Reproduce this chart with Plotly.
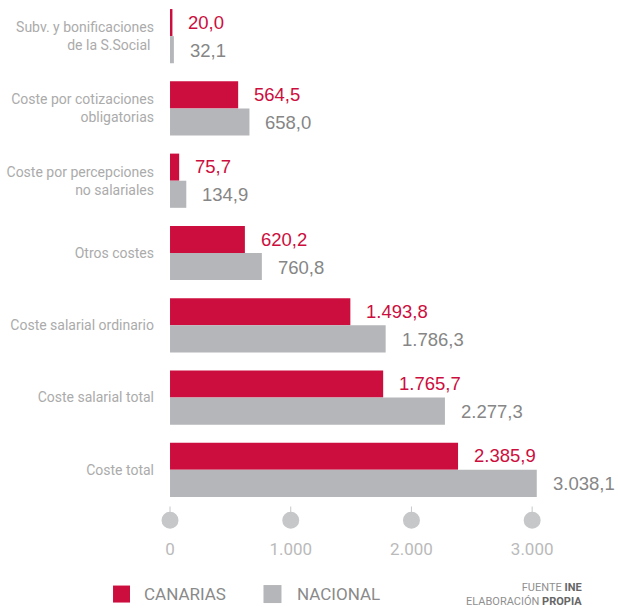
import plotly.graph_objects as go

# Datos (miles de euros)
categorias = [
    "Subv. y bonificaciones<br>de la S.Social ",
    "Coste por cotizaciones<br>obligatorias",
    "Coste por percepciones<br>no salariales",
    "Otros costes",
    "Coste salarial ordinario",
    "Coste salarial total",
    "Coste total",
]
canarias = [20.0, 564.5, 75.7, 620.2, 1493.8, 1765.7, 2385.9]
nacional = [32.1, 658.0, 134.9, 760.8, 1786.3, 2277.3, 3038.1]
ticks_x = [0, 1000, 2000, 3000]
ticks_txt = ["0", "1.000", "2.000", "3.000"]

ROJO = "#cc0e3e"
GRIS = "#b5b6b9"


def es_num(v):
    # formato español: 1.493,8
    s = f"{v:,.1f}"
    return s.replace(",", "X").replace(".", ",").replace("X", ".")


fig = go.Figure()
fig.add_trace(go.Bar(y=categorias, x=canarias, orientation="h", name="CANARIAS",
                     marker=dict(color=ROJO, line=dict(width=0))))
fig.add_trace(go.Bar(y=categorias, x=nacional, orientation="h", name="NACIONAL",
                     marker=dict(color=GRIS, line=dict(width=0))))

# etiquetas de valor
for cat, vc, vn in zip(categorias, canarias, nacional):
    fig.add_annotation(x=vc, y=cat, text=es_num(vc), showarrow=False, xanchor="left",
                       xshift=14, yshift=14, font=dict(family="Liberation Sans, Arial", size=18.5, color=ROJO))
    fig.add_annotation(x=vn, y=cat, text=es_num(vn), showarrow=False, xanchor="left",
                       xshift=14, yshift=-14, font=dict(family="Liberation Sans, Arial", size=18.5, color="#868686"))

# marcas del eje: palito + círculo
for t in ticks_x:
    fig.add_shape(type="line", xref="x", yref="paper", x0=t, x1=t, y0=-0.001, y1=-0.02,
                  line=dict(color="#c6c7c9", width=1))
    fig.add_shape(type="circle", xref="x", yref="paper", xsizemode="pixel", ysizemode="pixel",
                  xanchor=t, yanchor=-0.028, x0=-8.5, x1=8.5, y0=-8.5, y1=8.5,
                  fillcolor="#c6c7c9", line=dict(width=0))

# leyenda manual
fig.add_shape(type="rect", xref="paper", yref="paper", xsizemode="pixel", ysizemode="pixel",
              xanchor=-0.084, yanchor=-0.174, x0=-8.5, x1=8.5, y0=-8.5, y1=8.5,
              fillcolor=ROJO, line=dict(width=0))
fig.add_annotation(xref="paper", yref="paper", x=-0.039, y=-0.174, text="CANARIAS", showarrow=False,
                   xanchor="left", yanchor="middle", font=dict(family="Roboto", size=17, color="#8a8a8a"))
fig.add_shape(type="rect", xref="paper", yref="paper", xsizemode="pixel", ysizemode="pixel",
              xanchor=0.2456, yanchor=-0.174, x0=-9, x1=9, y0=-9, y1=9,
              fillcolor=GRIS, line=dict(width=0))
fig.add_annotation(xref="paper", yref="paper", x=0.2948, y=-0.174, text="NACIONAL", showarrow=False,
                   xanchor="left", yanchor="middle", font=dict(family="Roboto", size=17, color="#8a8a8a"))

fig.add_annotation(xref="paper", yref="paper", x=0.9258, y=-0.174, showarrow=False, xanchor="right",
                   yanchor="middle", align="right",
                   text="FUENTE <span style='color:#666'><b>INE</b></span><br>"
                        "ELABORACIÓN <span style='color:#666'><b>PROPIA</b></span>",
                   font=dict(family="Roboto", size=11, color="#909090"))

fig.update_layout(
    width=618, height=609,
    margin=dict(l=160, r=0, t=0, b=103),
    barmode="group", bargap=0.25, bargroupgap=0,
    plot_bgcolor="white", paper_bgcolor="white",
    showlegend=False,
)
fig.update_xaxes(range=[-83, 3711], tickvals=ticks_x, ticktext=ticks_txt, showgrid=False,
                 zeroline=False, showline=False, ticks="", ticklabelstandoff=31,
                 automargin=False,
                 tickfont=dict(family="Roboto", size=17, color="#bababa"))
fig.update_yaxes(autorange="reversed", showgrid=False, zeroline=False, showline=False,
                 ticks="", ticklabelstandoff=5, automargin=False,
                 tickfont=dict(family="Roboto", size=14, color="#ababab"))

# sin margen del body para que la figura ocupe toda la ventana
fig.write_html("out.html", config={"displayModeBar": False},
               post_script="document.body.style.margin='0';")
